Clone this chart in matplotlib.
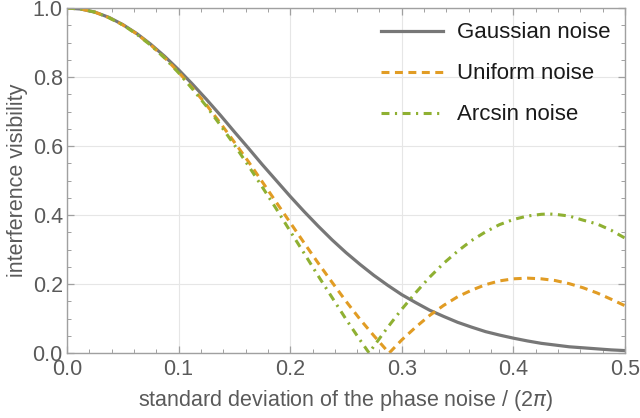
import matplotlib
matplotlib.use("Agg")
from matplotlib import pyplot as plt
from matplotlib.ticker import MultipleLocator

plt.rcParams['font.family'] = ['Liberation Sans', 'DejaVu Sans']

# standard deviation of phase noise / (2 pi)
sigma = [0.0, 0.0125, 0.025, 0.0375, 0.05, 0.0625, 0.075, 0.0875, 0.1, 0.1125, 0.125,
         0.1375, 0.15, 0.1625, 0.175, 0.1875, 0.2, 0.2125, 0.225, 0.2375, 0.25,
         0.2625, 0.275, 0.2875, 0.3, 0.3125, 0.325, 0.3375, 0.35, 0.3625, 0.375,
         0.3875, 0.4, 0.4125, 0.425, 0.4375, 0.45, 0.4625, 0.475, 0.4875, 0.5]
gaussian = [1.0, 0.997, 0.988, 0.973, 0.952, 0.926, 0.895, 0.860, 0.821, 0.779, 0.735,
            0.689, 0.641, 0.594, 0.546, 0.500, 0.454, 0.410, 0.368, 0.328, 0.291,
            0.257, 0.225, 0.196, 0.169, 0.146, 0.124, 0.106, 0.089, 0.075, 0.062,
            0.052, 0.043, 0.035, 0.028, 0.023, 0.018, 0.015, 0.012, 0.009, 0.007]

sigma_uniform = [0.0, 0.0125, 0.025, 0.0375, 0.05, 0.0625, 0.075, 0.0875, 0.1, 0.1125, 0.125,
                 0.1375, 0.15, 0.1625, 0.175, 0.1875, 0.2, 0.2125, 0.225, 0.2375, 0.25,
                 0.2625, 0.275, 0.2875, 0.2887, 0.3, 0.3125, 0.325, 0.3375, 0.35, 0.3625, 0.375,
                 0.3875, 0.4, 0.4125, 0.425, 0.4375, 0.45, 0.4625, 0.475, 0.4875, 0.5]
uniform = [1.0, 0.997, 0.988, 0.972, 0.951, 0.925, 0.893, 0.856, 0.814, 0.768, 0.719,
           0.666, 0.611, 0.555, 0.496, 0.437, 0.378, 0.319, 0.261, 0.205, 0.150,
           0.098, 0.050, 0.004, 0.0, 0.038, 0.075, 0.109, 0.138, 0.163, 0.182, 0.198,
           0.209, 0.215, 0.217, 0.215, 0.210, 0.201, 0.189, 0.174, 0.156, 0.137]

sigma_arcsin = [0.0, 0.0125, 0.025, 0.0375, 0.05, 0.0625, 0.075, 0.0875, 0.1, 0.1125, 0.125,
                0.1375, 0.15, 0.1625, 0.175, 0.1875, 0.2, 0.2125, 0.225, 0.2375, 0.25,
                0.2625, 0.2707, 0.275, 0.2875, 0.3, 0.3125, 0.325, 0.3375, 0.35, 0.3625, 0.375,
                0.3875, 0.4, 0.4125, 0.425, 0.4312, 0.4375, 0.45, 0.4625, 0.475, 0.4875, 0.5]
arcsin = [1.0, 0.997, 0.988, 0.972, 0.951, 0.924, 0.892, 0.855, 0.812, 0.765, 0.715,
          0.660, 0.603, 0.543, 0.481, 0.418, 0.353, 0.289, 0.224, 0.161, 0.098,
          0.038, 0.0, 0.020, 0.075, 0.127, 0.175, 0.220, 0.260, 0.295, 0.326, 0.351,
          0.372, 0.387, 0.397, 0.402, 0.403, 0.402, 0.397, 0.385, 0.374, 0.356, 0.333]

fig = plt.figure(figsize=(6.4, 4.18), dpi=100)
ax = fig.add_axes([67 / 640, 1 - 353 / 418, 558 / 640, 345 / 418])

ax.plot(sigma, gaussian, color='#777777', lw=2.3, label='Gaussian noise')
ax.plot(sigma_uniform, uniform, color='#E19C24', lw=2.2, ls=(0, (2.6, 1.8)), label='Uniform noise')
ax.plot(sigma_arcsin, arcsin, color='#8FB032', lw=2.2, ls=(0, (2.6, 1.8, 0.7, 1.8)), label='Arcsin noise')

ax.set_xlim(0, 0.5)
ax.set_ylim(0, 1)
ax.xaxis.set_major_locator(MultipleLocator(0.1))
ax.xaxis.set_minor_locator(MultipleLocator(0.02))
ax.yaxis.set_major_locator(MultipleLocator(0.2))
ax.yaxis.set_minor_locator(MultipleLocator(0.05))
ax.grid(True, which='major', color='#e6e6e6', lw=0.8)
ax.set_axisbelow(True)

for s in ax.spines.values():
    s.set_color('#a0a0a0')
    s.set_linewidth(1.0)
ax.tick_params(which='both', direction='in', top=True, right=True, color='#a0a0a0',
               labelcolor='#5a5a5a', labelsize=15.5)
ax.tick_params(axis='x', pad=4)
ax.tick_params(axis='y', pad=3)
ax.tick_params(which='major', length=5, width=0.9)
ax.tick_params(which='minor', length=3, width=0.7)

ax.set_xlabel('standard deviation of the phase noise / (2$\\pi$)', color='#5a5a5a', fontsize=15.5, labelpad=6)
ax.set_ylabel('interference visibility', color='#5a5a5a', fontsize=15.5, labelpad=3)

leg = ax.legend(loc='upper right', frameon=False, fontsize=16, handlelength=2.8, handletextpad=0.62,
                labelspacing=0.9, borderaxespad=0.2, borderpad=0.45)
for t in leg.get_texts():
    t.set_color('#1a1a1a')

fig.savefig('out.png', dpi=100)
